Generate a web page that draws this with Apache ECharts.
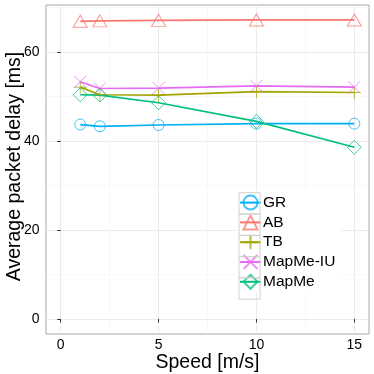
<!DOCTYPE html>
<html><head><meta charset="utf-8">
<script src="https://cdn.jsdelivr.net/npm/echarts@6/dist/echarts.min.js"></script>
<style>html,body{margin:0;padding:0;background:#fff}#c{width:374px;height:374px}</style>
</head><body><div id="c"></div>
<script>
// ---- data ----
const speeds = [1, 2, 5, 10, 15];
const seriesNames = ['GR', 'AB', 'TB', 'MapMe-IU', 'MapMe'];
const grDelay = [43.7, 43.3, 43.6, 43.9, 43.9];
const abDelay = [66.9, 67.0, 67.1, 67.2, 67.2];
const tbDelay = [52.1, 50.4, 50.3, 51.1, 50.9];
const mapmeIuDelay = [53.3, 51.8, 51.9, 52.4, 52.1];
const mapmeDelay = [50.4, 50.3, 48.6, 44.4, 38.6];
const xTicks = [0, 5, 10, 15];
const yTicks = [0, 20, 40, 60];
const xMinor = [2.5, 7.5, 12.5];
const yMinor = [10, 30, 50, 70];

// ---- styles ----
const FONT = 'Liberation Sans, Arial, Helvetica, sans-serif';
const colors = ['#00B0F6', '#F8766D', '#A3A500', '#E76BF3', '#00BF7D'];
const symbols = ['circle', 'triangle', 'path://M5,0L5,10M0,5L10,5', 'path://M0,0L10,10M10,0L0,10', 'diamond'];
const sizes = [11, [14, 12], 13, 12, 14];
const values = [grDelay, abDelay, tbDelay, mapmeIuDelay, mapmeDelay];

const chart = echarts.init(document.getElementById('c'), null, {renderer: 'canvas'});

const series = seriesNames.map((n, i) => ({
  name: n,
  type: 'line',
  data: speeds.map((s, j) => [s, values[i][j]]),
  symbol: symbols[i],
  symbolSize: sizes[i],
  showAllSymbol: true,
  lineStyle: {color: colors[i], width: 1.7},
  itemStyle: {color: 'rgba(0,0,0,0)', borderColor: colors[i], borderWidth: 1, opacity: 0.75},
  emphasis: {disabled: true},
  z: 3
}));

const GL = 46, GT = 5, GW = 323, GH = 329;
const keyTop = 192.7, keyPitch = 21.3;
const keyRects = seriesNames.map((n, i) => ({
  type: 'rect',
  shape: {x: 239, y: keyTop + i * keyPitch, width: 21, height: keyPitch},
  style: {fill: 'rgba(0,0,0,0)', stroke: '#d0d0d0', lineWidth: 1},
  z: 100
}));

chart.setOption({
  animation: false,
  backgroundColor: '#fff',
  grid: {left: GL, top: GT, width: GW, height: GH, containLabel: false, outerBoundsMode: 'none',
         show: true, borderColor: '#a6a6a6', borderWidth: 1, backgroundColor: 'transparent'},
  xAxis: [{
    type: 'value', min: -0.75, max: 15.75,
    axisLine: {show: false},
    axisTick: {show: true, length: 3.5, customValues: xTicks, lineStyle: {color: '#333'}},
    axisLabel: {customValues: xTicks, fontSize: 14, color: '#000', fontFamily: FONT, margin: 4.5},
    splitLine: {show: true, lineStyle: {color: '#ebebeb', width: 1}},
    name: 'Speed [m/s]', nameLocation: 'middle', nameGap: 19, nameMoveOverlap: false,
    nameTextStyle: {fontSize: 19.5, color: '#000', fontFamily: FONT}
  }, {
    type: 'value', min: -0.75, max: 15.75, position: 'bottom',
    axisLine: {show: false}, axisLabel: {show: false},
    axisTick: {show: false, customValues: xMinor},
    splitLine: {show: true, lineStyle: {color: '#f4f4f4', width: 0.6}}
  }],
  yAxis: [{
    type: 'value', min: -3.36, max: 70.56,
    axisLine: {show: false},
    axisTick: {show: true, length: 3.5, customValues: yTicks, lineStyle: {color: '#333'}},
    axisLabel: {customValues: yTicks, fontSize: 14, color: '#000', fontFamily: FONT, margin: 6.5},
    splitLine: {show: true, lineStyle: {color: '#ebebeb', width: 1}},
    name: 'Average packet delay [ms]', nameLocation: 'middle', nameGap: 21, nameMoveOverlap: false,
    nameTextStyle: {fontSize: 19.5, color: '#000', fontFamily: FONT, padding: [0, 0, 0, 6]}
  }, {
    type: 'value', min: -3.36, max: 70.56, position: 'left',
    axisLine: {show: false}, axisLabel: {show: false},
    axisTick: {show: false, customValues: yMinor},
    splitLine: {show: true, lineStyle: {color: '#f4f4f4', width: 0.6}}
  }],
  legend: {
    orient: 'vertical', left: 236, top: 191.6,
    padding: [3, 6, 3, 3],
    backgroundColor: '#fff',
    itemWidth: 21, itemHeight: 17.5, itemGap: 3.8,
    data: seriesNames,
    textStyle: {fontSize: 15.5, color: '#000', fontFamily: FONT, padding: [0, 0, 0, -3]},
    selectedMode: false
  },
  graphic: keyRects,
  series: series
});
</script></body></html>
